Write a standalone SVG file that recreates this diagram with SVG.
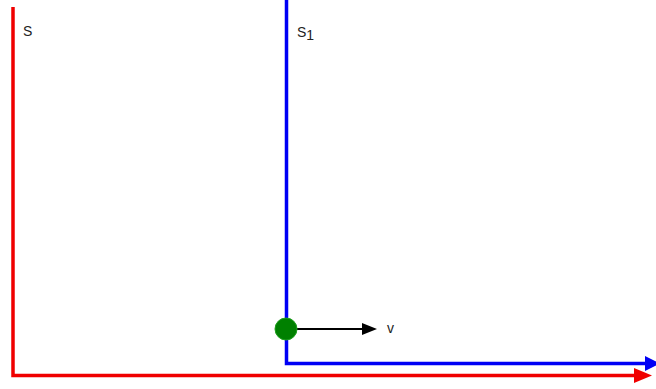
<svg xmlns="http://www.w3.org/2000/svg" width="656" height="389" viewBox="0 0 656 389">
<style>
text{font-family:"Liberation Sans",Arial,sans-serif;font-size:14px;fill:#222}
.ax{fill:none;stroke-width:3.5}
</style>
<rect width="656" height="389" fill="#fff"/>
<g id="connectors">
<polyline class="ax" stroke="#f00000" points="13,7 13,375.5 636,375.5"/>
<polygon fill="#f00000" points="634,368 652,375.5 634,383"/>
<polyline class="ax" stroke="#0000f5" points="286.5,0 286.5,363.5 646,363.5"/>
<polygon fill="#0000f5" points="645,356 660,363.5 645,371"/>
<line x1="286" y1="329" x2="364" y2="329" stroke="#000" stroke-width="2"/>
<polygon fill="#000" points="362,323 377,329 362,335"/>
</g>
<g id="S"><text x="23" y="36">S</text></g>
<g id="S1"><text x="297" y="37">S<tspan font-size="14" dy="3">1</tspan></text></g>
<g id="particle"><circle cx="286" cy="329" r="11" fill="#008000" stroke="#1ea01e" stroke-width="1"/></g>
<g id="v"><text x="387" y="333">v</text></g>
</svg>
